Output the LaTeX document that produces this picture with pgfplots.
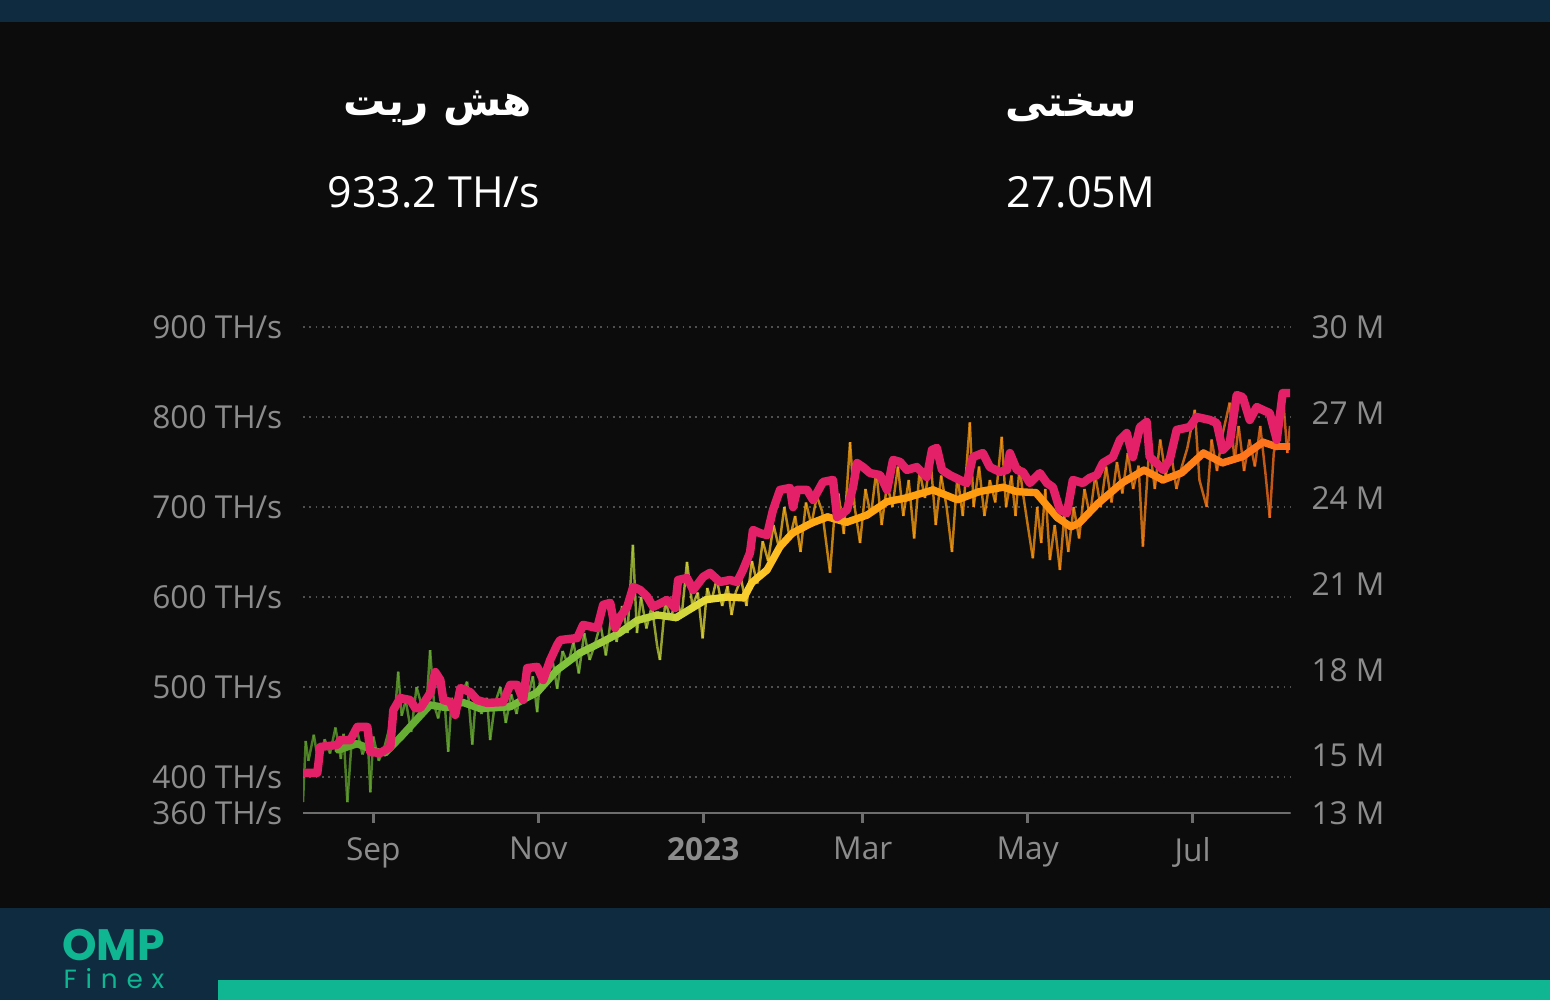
\documentclass[border=0pt]{standalone}
\usepackage{pgfplots}
\pgfplotsset{compat=1.18}
\usepackage{fontspec}
\setmainfont{Open Sans}
\newfontfamily\arabicfont[Script=Arabic]{DejaVu Sans}
\newfontfamily\logofont{Poppins}
\TeXXeTstate=1
\definecolor{bgc}{RGB}{12,12,12}
\definecolor{navy}{RGB}{14,43,64}
\definecolor{teal}{RGB}{16,182,146}
\definecolor{ticktxt}{RGB}{140,140,140}
\definecolor{gridc}{RGB}{80,80,80}
\definecolor{axisc}{RGB}{110,110,110}
\definecolor{diffpink}{RGB}{228,32,105}

\begin{document}
\begin{tikzpicture}
% page: 1550 x 1000 px, 1 px = 0.1 mm
\fill[bgc] (0,0) rectangle (15.5,10);
\fill[navy] (0,9.78) rectangle (15.5,10);
\fill[navy] (0,0) rectangle (15.5,0.92);
\fill[teal] (2.18,0) rectangle (15.5,0.2);
\node[teal, inner sep=0pt, font=\logofont\bfseries\fontsize{12.5}{12.5}\selectfont] at (1.135,0.55) {OMP};
\node[teal, inner sep=0pt, font=\logofont\fontsize{7.5}{7.5}\selectfont] at (1.14,0.21) {F\,\,i\,\,n\,\,e\,\,x};

\node[white, font=\arabicfont\bfseries\fontsize{12}{14}\selectfont] at (4.38,8.92) {\beginR هش ریت\endR};
\node[white, font=\arabicfont\bfseries\fontsize{12}{14}\selectfont] at (10.71,8.92) {\beginR سختی\endR};
\node[white, font=\fontsize{12.2}{14}\selectfont] at (4.34,8.08) {933.2 TH/s};
\node[white, font=\fontsize{12.2}{14}\selectfont] at (10.81,8.08) {27.05M};

\begin{axis}[
  at={(3.03cm,1.87cm)}, anchor=south west,
  scale only axis, width=9.87cm, height=4.86cm,
  xmin=-26, xmax=339, ymin=360, ymax=900,
  axis x line*=bottom, axis y line*=left,
  x axis line style={axisc, line width=0.8pt},
  y axis line style={draw=none},
  tick align=outside,
  xtick={0,61,122,181,242,303},
  xticklabels={Sep,Nov,\textbf{2023},Mar,May,Jul},
  xtick style={axisc, line width=0.8pt},
  major tick length=1mm,
  ytick={360,400,500,600,700,800,900},
  yticklabels={360 TH/s,400 TH/s,500 TH/s,600 TH/s,700 TH/s,800 TH/s,900 TH/s},
  ytick style={draw=none},
  ymajorgrids,
  grid style={gridc, line width=0.5pt, dash pattern=on 0.5pt off 1.3pt},
  tick label style={ticktxt, font=\fontsize{9}{10}\selectfont},
  yticklabel style={xshift=0.5pt},
  xticklabel style={yshift=-0.5pt},
  colormap={hr}{rgb255(0pt)=(95,160,45); rgb255(66pt)=(110,180,55);
    rgb255(101pt)=(130,195,60); rgb255(126pt)=(185,210,60);
    rgb255(151pt)=(232,220,60); rgb255(166pt)=(250,205,45);
    rgb255(186pt)=(255,170,20); rgb255(256pt)=(255,155,15);
    rgb255(326pt)=(255,130,25); rgb255(365pt)=(255,110,30)},
  point meta min=-26, point meta max=339,
]
% daily hash rate
\addplot[mesh, point meta=x, line width=0.7pt, opacity=0.75] table {
-26 372
-25 440
-24 418
-22 447
-20 410
-18 442
-16 426
-14 455
-12 420
-11 448
-9.6 372
-8 440
-6 452
-4 425
-2 440
-1.1 383
0 445
2 418
4 432
6 455
8 470
9.2 517
10.5 468
12 485
14 450
16 500
18 478
20 495
21 541
22.5 480
24 465
26 498
27.7 428
29 488
31 470
33 495
34.7 506
36.6 436
38 490
40 470
42 488
43.2 441
45 482
47 500
49 460
51 492
53 470
55 505
57 488
59 512
60.6 472
62 520
64 505
66 535
68 498
70 540
72 525
74 550
76 515
78 560
80 530
82 548
84 570
86 535
88 578
90 550
92 590
94 560
96 658
97.5 560
99 600
101 565
103 590
105 545
106 530
108 595
110 575
112 600
114 578
116 639
118 590
120 605
121.8 554
123.5 610
125 595
127 620
129 590
131 612
132.5 580
134 605
136 620
138 590
140 640
142 615
144 662
146 640
148 680
150 655
152 700
154 665
156 690
158 650
160 705
162 680
164 712
166 695
168.9 627
170.5 690
172 715
174 670
176.3 772
178 700
180 660
182 720
184 690
186 740
188 680
190 725
192 700
194 745
196 690
198 730
200 665
202 740
204 710
206 755
208 680
210 735
212 700
214 650
216 735
218 690
220.6 794
222 700
224 745
226 690
228 730
230 705
232.4 778
234 700
236 735
237.5 690
239 745
240 720
242 680
243.9 643
245.5 700
247 660
248.5 720
250.2 641
252 680
253.9 630
255.5 690
257 650
259 700
261 665
263 720
265 690
267 735
269 700
271 745
273 705
275 750
277 715
279 760
281 720
283 746
284.6 656
287 770
289 720
291 775
293 735
295 760
297 720
299 745
301 765
303.8 808
305.5 730
308.2 700
310 775
312 740
314 780
316.7 816
318.5 750
320 790
322 740
324 775
326 745
328 790
330 735
331.5 688
333 760
335 790
336.3 827
338 760
339 790
};
% 7-day average
\addplot[mesh, point meta=x, line width=2.1pt, line cap=round, line join=round] table {
-13 430
-6 437
1.5 428
4.4 427
10 444
21 480
27 477
33 483
39.5 476
50.6 478
55.4 486
60.6 494
68 519
76.5 538
84 549
91 560
97.6 574
105 580
112 577
118 588
123 597
131 600
137 599
140 616
145.6 630
150.4 656
155 671
162 682
168 689
175 683
182.6 691
190 706
197 710
207 719
216 708
224 717
233 722
238 717
245 716
253 688
258 678
261 682
268 704
277 727
285 741
292 730
299 738
307 760
314 749
321.5 756
329 772
334 767
339 767
};
\end{axis}

\begin{axis}[
  at={(3.03cm,1.87cm)}, anchor=south west,
  scale only axis, width=9.87cm, height=4.86cm,
  xmin=-26, xmax=339, ymin=13, ymax=30,
  axis x line=none, axis y line*=right,
  y axis line style={draw=none},
  ytick={13,15,18,21,24,27,30},
  yticklabels={13 M,15 M,18 M,21 M,24 M,27 M,30 M},
  ytick style={draw=none},
  tick label style={ticktxt, font=\fontsize{9}{10}\selectfont},
  yticklabel style={xshift=2.6pt},
]
% difficulty
\addplot[diffpink, line width=2.4pt, line join=round, line cap=round] table {
-25.1 14.40
-20.7 14.40
-19.6 15.31
-13.3 15.38
-12.2 15.55
-8.5 15.55
-5.9 16.01
-2.2 16.01
-1.1 15.13
2.6 15.10
6.3 15.31
7.4 16.60
10.0 17.02
13.7 16.95
15.5 16.67
17.4 16.67
21.1 17.20
22.9 17.93
24.8 17.65
25.9 16.95
28.5 16.88
30.3 16.43
32.2 17.37
35.8 17.23
38.4 16.95
42.1 16.85
48.0 16.88
50.6 17.48
53.2 17.48
55.4 16.95
56.9 18.07
60.6 18.11
62.8 17.65
65.4 18.35
68.0 18.88
69.1 19.05
75.4 19.12
77.6 19.58
82.8 19.47
85.0 20.28
87.6 20.35
89.4 19.47
91.3 19.86
93.9 20.21
96.1 20.91
98.7 20.80
101.3 20.56
103.5 20.21
108.6 20.45
111.6 20.17
112.7 21.15
116.0 21.22
118.3 20.80
122.0 21.26
124.5 21.40
128.2 21.08
131.9 21.15
134.5 21.08
136.7 21.50
139.3 22.10
140.4 22.90
143.0 22.79
145.6 22.72
147.8 23.60
150.4 24.30
154.1 24.37
155.2 23.70
156.7 24.30
160.4 24.30
162.6 23.95
166.3 24.58
170.0 24.65
171.5 23.35
175.2 23.60
177.4 24.40
178.9 25.24
181.1 25.10
183.7 24.89
187.4 24.82
190.0 24.30
192.2 25.35
194.8 25.28
197.3 25.00
201.0 25.10
204.7 24.75
206.6 25.70
208.4 25.77
210.3 25.00
213.2 24.82
216.9 24.65
219.5 24.54
221.7 25.45
225.4 25.59
228.0 25.10
231.7 24.93
234.3 25.00
235.4 25.59
238.0 25.00
240.2 24.93
242.8 24.54
246.5 24.89
249.1 24.54
251.3 24.40
253.9 23.60
256.5 23.49
258.7 24.65
262.4 24.54
264.9 24.72
267.6 24.82
269.8 25.24
273.5 25.45
276.1 26.05
278.6 26.29
280.9 25.45
283.5 26.50
286.0 26.68
287.1 25.45
289.7 25.24
292.0 25.00
294.5 25.35
297.1 26.40
301.9 26.50
304.5 26.85
309.3 26.75
311.9 26.64
314.1 25.70
316.7 25.94
319.3 27.62
321.5 27.55
324.1 26.75
326.7 27.20
328.9 27.10
331.5 26.99
334.1 26.05
336.3 27.69
338.9 27.69
};
\end{axis}
\end{tikzpicture}
\end{document}
